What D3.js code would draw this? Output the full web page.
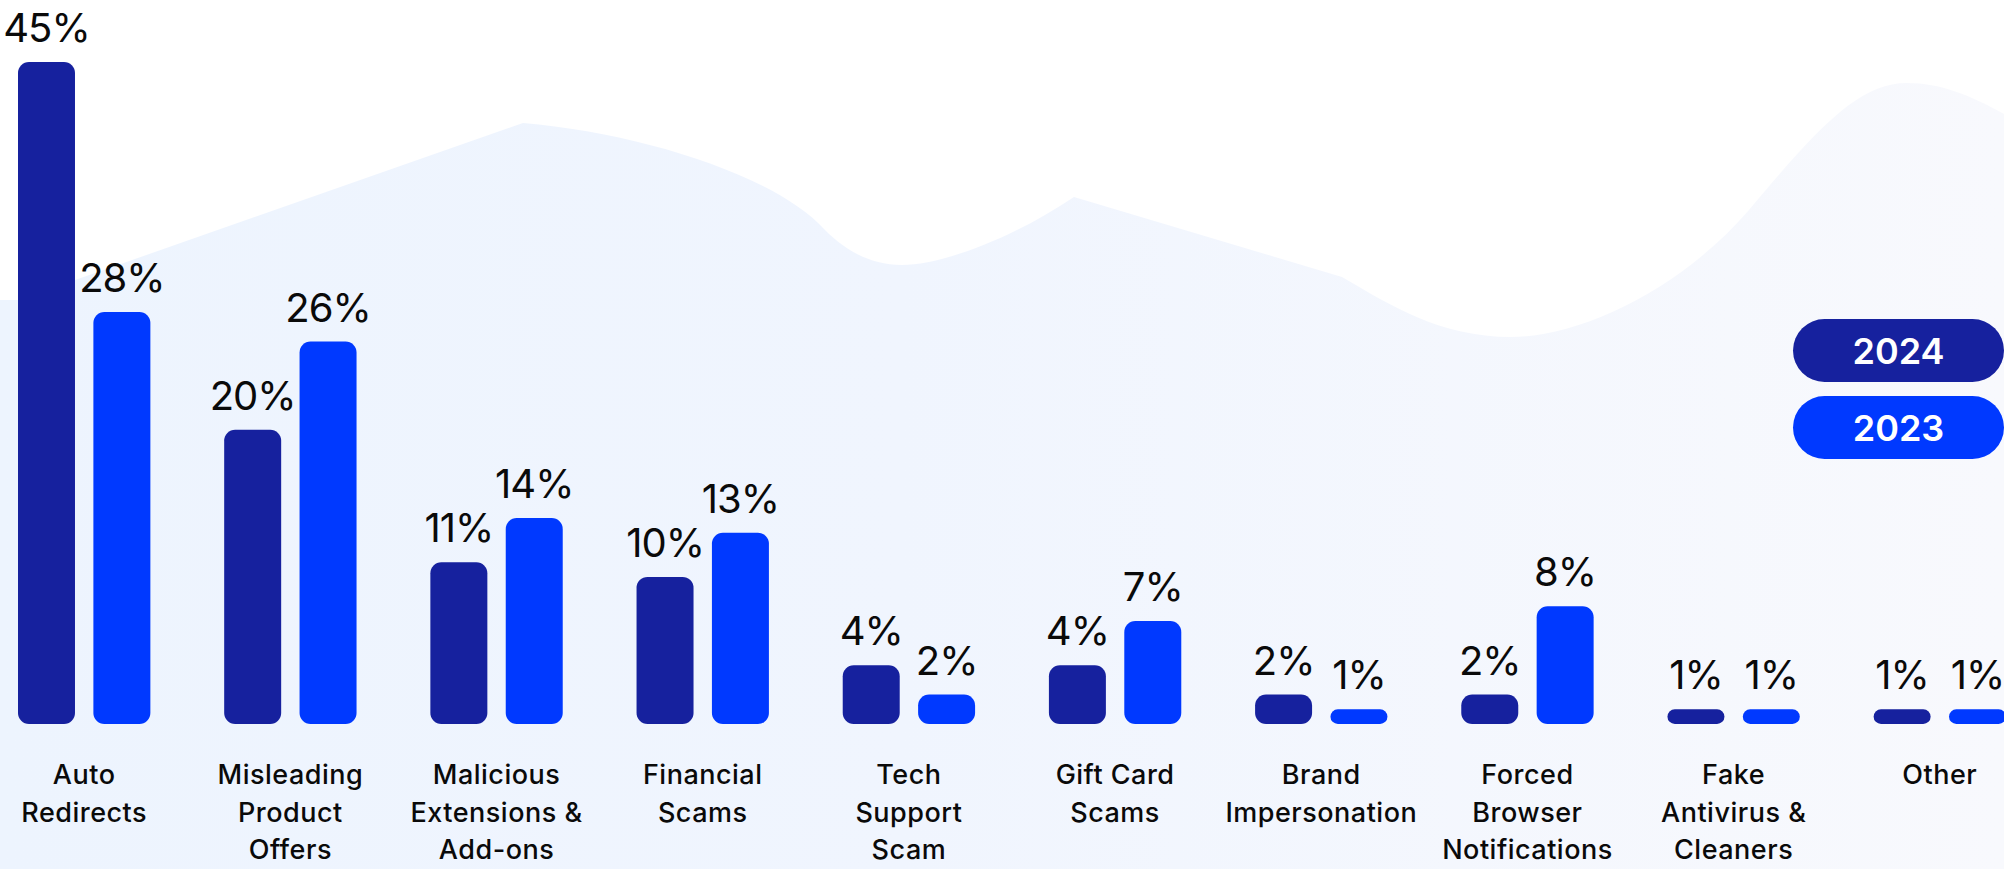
<!DOCTYPE html>
<html>
<head>
<meta charset="utf-8">
<script src="https://cdn.jsdelivr.net/npm/d3@7/dist/d3.min.js"></script>
<style>
  html, body { margin: 0; padding: 0; background: #ffffff; }
  svg { display: block; }
</style>
</head>
<body>
<div id="chart"></div>
<script>
// ---------- DATA ----------
const categories = [
  "Auto\nRedirects",
  "Misleading\nProduct\nOffers",
  "Malicious\nExtensions &\nAdd-ons",
  "Financial\nScams",
  "Tech\nSupport\nScam",
  "Gift Card\nScams",
  "Brand\nImpersonation",
  "Forced\nBrowser\nNotifications",
  "Fake\nAntivirus &\nCleaners",
  "Other"
];
const seriesNames = ["2024", "2023"];
const values2024 = [45, 20, 11, 10, 4, 4, 2, 2, 1, 1];
const values2023 = [28, 26, 14, 13, 2, 7, 1, 8, 1, 1];
const seriesColors = ["#16219E", "#0039FF"];

// ---------- LAYOUT ----------
const W = 2004, H = 869;
const baseline = 724;
const plotTop = 62;

const svg = d3.select("#chart").append("svg")
  .attr("width", W).attr("height", H)
  .attr("viewBox", `0 0 ${W} ${H}`);

// background decoration
const defs = svg.append("defs");
const grad = defs.append("linearGradient").attr("id", "bgGrad")
  .attr("x1", "0%").attr("y1", "0%").attr("x2", "100%").attr("y2", "0%");
grad.append("stop").attr("offset", "0%").attr("stop-color", "#EDF4FE");
grad.append("stop").attr("offset", "45%").attr("stop-color", "#F0F5FE");
grad.append("stop").attr("offset", "100%").attr("stop-color", "#F8F9FD");

svg.append("rect").attr("width", W).attr("height", H).attr("fill", "#ffffff");
const bg = d3.path();
bg.moveTo(0, H);
bg.lineTo(0, 300);
bg.lineTo(18, 300);
bg.lineTo(523, 123);
bg.bezierCurveTo(640, 133, 775, 175, 825, 230);
bg.bezierCurveTo(845, 250, 870, 265, 902, 265);
bg.bezierCurveTo(940, 265, 1010, 240, 1074, 197);
bg.lineTo(1342, 277);
bg.bezierCurveTo(1390, 305, 1440, 337, 1511, 337);
bg.bezierCurveTo(1580, 337, 1680, 290, 1749, 210);
bg.bezierCurveTo(1820, 125, 1860, 83, 1907, 83);
bg.bezierCurveTo(1940, 83, 1970, 95, 2004, 114);
bg.lineTo(W, H);
bg.closePath();
svg.append("path").attr("d", bg.toString()).attr("fill", "url(#bgGrad)");

// scales
const x0 = d3.scaleBand()
  .domain(categories)
  .range([18, 2006])
  .paddingInner(0.358)
  .paddingOuter(0);

const x1 = d3.scaleBand()
  .domain(seriesNames)
  .range([0, x0.bandwidth()])
  .paddingInner(0.244);

const allValues = values2024.concat(values2023);
const y = d3.scaleLinear()
  .domain([0, d3.max(allValues)])
  .range([baseline, plotTop]);

const color = d3.scaleOrdinal().domain(seriesNames).range(seriesColors);

const rows = categories.map((c, i) => ({
  category: c,
  items: [
    { series: "2024", value: values2024[i] },
    { series: "2023", value: values2023[i] }
  ]
}));

const fontFamily = "Inter, 'Noto Sans', sans-serif";

const groups = svg.append("g").selectAll("g.group")
  .data(rows).join("g")
  .attr("class", "group")
  .attr("transform", d => `translate(${x0(d.category)},0)`);

groups.selectAll("rect.bar")
  .data(d => d.items).join("rect")
  .attr("class", "bar")
  .attr("x", d => x1(d.series))
  .attr("y", d => y(d.value))
  .attr("width", x1.bandwidth())
  .attr("height", d => baseline - y(d.value))
  .attr("rx", d => Math.min(11, (baseline - y(d.value)) / 2))
  .attr("fill", d => color(d.series));

groups.selectAll("text.val")
  .data(d => d.items).join("text")
  .attr("class", "val")
  .attr("x", d => x1(d.series) + x1.bandwidth() / 2)
  .attr("y", d => y(d.value) - 20)
  .attr("text-anchor", "middle")
  .attr("font-family", fontFamily)
  .attr("font-size", 40)
  .attr("font-weight", 400)
  .attr("letter-spacing", "-1")
  .attr("fill", "#0a0a0a")
  .text(d => `${d.value}%`);

// category labels
const catText = groups.append("text")
  .attr("class", "cat")
  .attr("x", x0.bandwidth() / 2)
  .attr("y", 784)
  .attr("text-anchor", "middle")
  .attr("font-family", fontFamily)
  .attr("font-size", 27)
  .attr("font-weight", 500)
  .attr("letter-spacing", "0.5")
  .attr("fill", "#0a0a0a");
catText.selectAll("tspan")
  .data(d => d.category.split("\n")).join("tspan")
  .attr("x", x0.bandwidth() / 2)
  .attr("dy", (d, i) => i === 0 ? 0 : 37.7)
  .text(d => d);

// legend pills
const legendX = 1793, legendW = 211, pillH = 63, legendY = 319, legendStep = 77;
const legend = svg.append("g").selectAll("g.leg")
  .data(seriesNames).join("g")
  .attr("class", "leg")
  .attr("transform", (d, i) => `translate(${legendX},${legendY + i * legendStep})`);
legend.append("rect")
  .attr("width", legendW).attr("height", pillH)
  .attr("rx", pillH / 2)
  .attr("fill", d => color(d));
legend.append("text")
  .attr("x", legendW / 2)
  .attr("y", pillH / 2 + 13)
  .attr("text-anchor", "middle")
  .attr("font-family", fontFamily)
  .attr("font-size", 36)
  .attr("font-weight", 600)
  .attr("fill", "#ffffff")
  .text(d => d);
</script>
</body>
</html>
